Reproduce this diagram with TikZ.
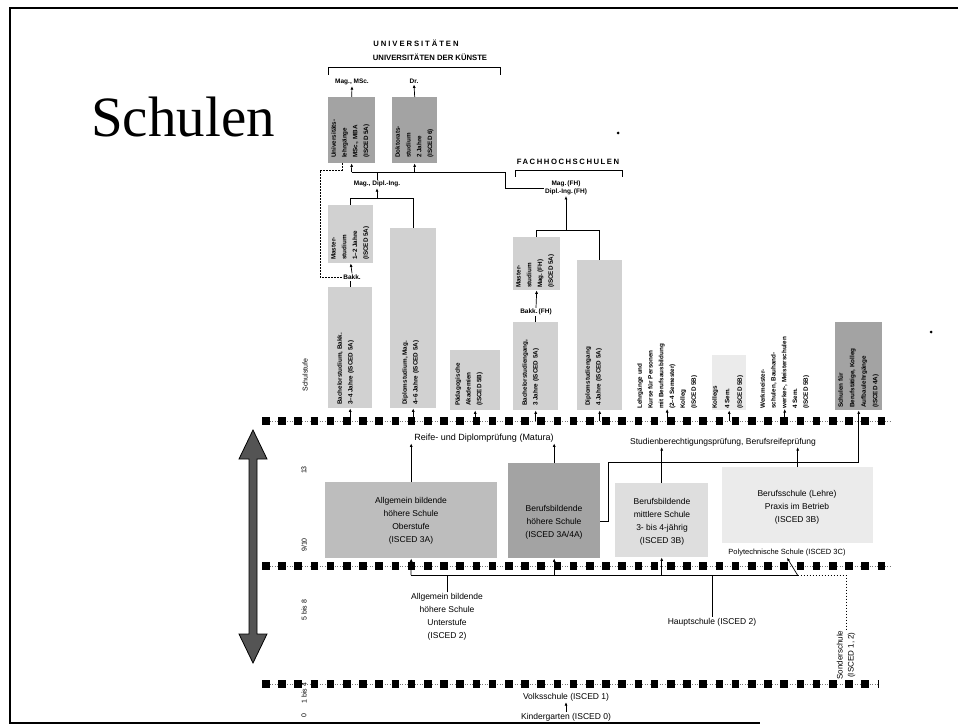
\documentclass[tikz,border=0pt]{standalone}
\usepackage{fontspec}
\setmainfont{Liberation Serif}
\setsansfont{Liberation Sans}
\usetikzlibrary{arrows.meta}
\definecolor{bxdark}{gray}{0.64}
\definecolor{bxmidd}{gray}{0.74}
\definecolor{bxmid}{gray}{0.82}
\definecolor{bxlight}{gray}{0.87}
\definecolor{bxpale}{gray}{0.92}
\definecolor{arrowfill}{gray}{0.33}
\begin{document}
\begin{tikzpicture}[x=1pt,y=-1pt,
  lbl/.style={font=\sffamily\fontsize{8.5}{13}\selectfont, align=center, inner sep=1pt},
  sml/.style={font=\sffamily\bfseries\fontsize{6.5}{9}\selectfont, align=center, inner sep=1pt},
  vtxt/.style={font=\sffamily\bfseries\fontsize{6.3}{10.8}\selectfont, rotate=90, align=left, anchor=north west, inner sep=0pt},
  bx/.style={anchor=north west, inner sep=0pt, draw=none},
  conn/.style={line width=0.7pt},
  arr/.style={conn, -{Latex[length=3.5pt,width=3pt]}},
  dsh/.style={line width=0.6pt, dash pattern=on 1.5pt off 1.5pt},
  stufe/.style={line width=7.5pt, dash pattern=on 7.5pt off 8.7pt},
  stufethin/.style={line width=0.5pt, black!55, dash pattern=on 1pt off 1.5pt},
]
\useasboundingbox (0,0) rectangle (961,727);

% slide frame
\draw[line width=2.4pt] (958,8) -- (10,8) -- (10,723) -- (760,723);

% title
\node[font=\fontsize{57}{60}\selectfont, anchor=base west, inner sep=0pt] (title) at (91,137) {Schulen};

% ---------- universities ----------
\node[font=\sffamily\bfseries\fontsize{7.7}{9}\selectfont\addfontfeature{LetterSpace=25}] (uni1) at (416,43) {UNIVERSITÄTEN};
\node[font=\sffamily\bfseries\fontsize{7.7}{9}\selectfont] (uni2) at (430,57) {UNIVERSITÄTEN DER KÜNSTE};
\draw[conn] (328,75) -- (328,67) -- (500,67) -- (500,75);

\node[sml] (lmag) at (352,82) {Mag., MSc.};
\node[sml] (ldr) at (414,81) {Dr.};

\node[bx, fill=bxdark, minimum width=47, minimum height=66] (u1) at (328,97) {};
\node[bx, fill=bxdark, minimum width=45, minimum height=66] (u2) at (392,97) {};
\node[vtxt] at (331,158) {Universitäts-\\lehrgänge\\MSc., MBA\\(ISCED 5A)};
\node[vtxt] at (395,158) {Doktorats-\\studium\\2 Jahre\\(ISCED 6)};
\draw[arr] (u1.north) -- (lmag.south);
\draw[arr] (u2.north) -- (ldr.south);

\node[sml] (lmd) at (377,184) {Mag., Dipl.-Ing.};
\node[sml] (lfh) at (566,188) {Mag.\,(FH)\\[-1.5pt]Dipl.-Ing.\,(FH)};

\coordinate (ua) at (351.5,172);
\coordinate (ub) at (414.5,172);
\coordinate (uc) at (505,172);
\draw[arr] (ua) -- (u1.south);
\draw[arr] (ub) -- (u2.south);
\draw[conn] (ua) -- (uc) |- (lfh.west);
\draw[conn] (lmd.north) -- (lmd.north |- ua);

\node[bx, fill=bxmid, minimum width=45, minimum height=58] (u3) at (328,205) {};
\node[bx, fill=bxmid, minimum width=46, minimum height=180] (u4) at (390,228) {};
\node[vtxt] at (331,260) {Master-\\studium\\1–2 Jahre\\(ISCED 5A)};
\coordinate (ba) at (350.5,198);
\draw[conn] (u3.north) |- (u4.north |- ba) -- (u4.north);
\draw[arr] (lmd.south |- ba) -- (lmd.south);

\node[sml] (lbk) at (352,277) {Bakk.};
\node[bx, fill=bxmid, minimum width=44, minimum height=121] (u5) at (328,287) {};
\draw[arr] (lbk.north) -- (u3.south);
\draw[conn] (u5.north) -- (u5.north |- lbk.south);
\draw[dsh] ([xshift=14pt]u1.south west) |- (320,170) |- (lbk.west);

\node[vtxt] at (337,405) {Bachelorstudium, Bakk.\\3–4 Jahre (ISCED 5A)};
\node[vtxt] at (402,405) {Diplomstudium, Mag.\\4–6 Jahre (ISCED 5A)};

% academies
\node[bx, fill=bxmid, minimum width=50, minimum height=60] (ak) at (450,350) {};
\node[vtxt] at (455,406) {Pädagogische\\Akademien\\(ISCED 5B)};

% ---------- universities of applied sciences ----------
\node[font=\sffamily\bfseries\fontsize{7.7}{9}\selectfont\addfontfeature{LetterSpace=20}] (fhh) at (568,162) {FACHHOCHSCHULEN};
\draw[conn] (515,177) -- (515,170) -- (622,170) -- (622,177);

\node[bx, fill=bxmid, minimum width=47, minimum height=53] (fm) at (513,237) {};
\node[bx, fill=bxmid, minimum width=45, minimum height=150] (fd) at (577,260) {};
\node[vtxt] at (516,288) {Master-\\studium\\Mag.\,(FH)\\(ISCED 5A)};
\coordinate (fa) at (536.5,230);
\draw[conn] (fm.north) |- (fd.north |- fa) -- (fd.north);
\draw[arr] (lfh.south |- fa) -- (lfh.south);

\node[sml] (lbf) at (536,312) {Bakk.\,(FH)};
\node[bx, fill=bxmid, minimum width=45, minimum height=88] (fb) at (513,322) {};
\draw[arr] (lbf.north) -- (fm.south);
\draw[conn] (fb.north) -- (fb.north |- lbf.south);
\node[vtxt] at (522,406) {Bachelorstudiengang,\\3 Jahre (ISCED 5A)};
\node[vtxt] at (585,406) {Diplomstudiengang\\4 Jahre (ISCED 5A)};

% ---------- post-secondary courses ----------
\node[vtxt] (ga) at (637,409) {Lehrgänge und\\Kurse für Personen\\mit Berufsausbildung\\(2–4 Semester)\\Kolleg\\(ISCED 5B)};
\node[bx, fill=bxpale, minimum width=34, minimum height=55] (gb) at (712,355) {};
\node[vtxt, font=\sffamily\bfseries\fontsize{6.3}{12.5}\selectfont] at (712,409) {Kollegs\\4 Sem.\\(ISCED 5B)};
\node[vtxt] (gc) at (760,409) {Werkmeister-\\schulen, Bauhand-\\werker-, Meisterschulen\\4 Sem.\\(ISCED 5B)};
\node[bx, fill=bxdark, minimum width=47, minimum height=88] (dk) at (835,322) {};
\node[vtxt, font=\sffamily\bfseries\fontsize{6.3}{11.5}\selectfont] at (838,408) {Schulen für\\Berufstätige, Kolleg\\Aufbaulehrgänge\\(ISCED 4A)};

% ---------- upper secondary ----------
\node[lbl, font=\sffamily\fontsize{9}{13}\selectfont] (mat) at (484,438) {Reife- und Diplomprüfung (Matura)};
\node[lbl] (sbp) at (723,442) {Studienberechtigungsprüfung, Berufsreifeprüfung};

\node[bx, fill=bxmidd, minimum width=172, minimum height=76] (ahso) at (325,482) {};
\node[bx, fill=bxdark, minimum width=92, minimum height=95] (bhs) at (508,463) {};
\node[bx, fill=bxlight, minimum width=93, minimum height=74] (bms) at (615,483) {};
\node[bx, fill=bxpale, minimum width=151, minimum height=76] (bs) at (722,467) {};
\node[lbl] at (411,521) {Allgemein bildende\\höhere Schule\\Oberstufe\\(ISCED 3A)};
\node[lbl] at (554,522) {Berufsbildende\\höhere Schule\\(ISCED 3A/4A)};
\node[lbl] at (662,522) {Berufsbildende\\mittlere Schule\\3- bis 4-jährig\\(ISCED 3B)};
\node[lbl] at (797,507) {Berufsschule (Lehre)\\Praxis im Betrieb\\(ISCED 3B)};
\node[lbl, font=\sffamily\fontsize{7.5}{9}\selectfont] (poly) at (787,553) {Polytechnische Schule (ISCED 3C)};

% ---------- lower secondary and primary ----------
\node[lbl] (ahsu) at (447,617) {Allgemein bildende\\höhere Schule\\Unterstufe\\(ISCED 2)};
\node[lbl] (hs) at (712,622) {Hauptschule (ISCED 2)};
\node[lbl, rotate=90, font=\sffamily\fontsize{8}{11}\selectfont] (sonder) at (846,655) {Sonderschule\\(ISCED 1, 2)};
\node[lbl] (vs) at (566,697) {Volksschule (ISCED 1)};
\node[lbl] (kg) at (566,717) {Kindergarten (ISCED 0)};

% grade labels
\node[lbl, rotate=90, font=\sffamily\fontsize{7}{9}\selectfont] (g0) at (305,375) {Schulstufe};
\node[lbl, rotate=90, font=\sffamily\fontsize{7}{9}\selectfont] (g1) at (304,470) {13};
\node[lbl, rotate=90, font=\sffamily\fontsize{7}{9}\selectfont] (g2) at (304,545) {9/10};
\node[lbl, rotate=90, font=\sffamily\fontsize{7}{9}\selectfont] (g3) at (304,610) {5 bis 8};
\node[lbl, rotate=90, font=\sffamily\fontsize{7}{9}\selectfont] (g4) at (304,693) {1 bis 4};
\node[lbl, rotate=90, font=\sffamily\fontsize{7}{9}\selectfont] (g5) at (304,716) {0};

% level separators
\foreach \yy/\xe in {421/892, 566/892, 684/878} {
  \draw[stufethin] (262,\yy) -- (\xe,\yy);
  \draw[stufe] (262,\yy) -- (\xe,\yy);
}

% entries into tertiary columns
\foreach \n in {u5,u4,ak,fb,fd,gb} \draw[arr] (\n.south |- 0,421) -- (\n.south);
\draw[arr] (ga.west |- 0,421) -- (ga.west);
\draw[arr] (gc.west |- 0,421) -- (gc.west);

% upper secondary to exams
\draw[arr] (ahso.north) -- (ahso.north |- mat.south);
\draw[arr] (bhs.north) -- (bhs.north |- mat.south);
\draw[arr] (bms.north) -- (bms.north |- sbp.south);
\draw[arr] (bs.north) -- (bs.north |- sbp.south);
\draw[arr] ([yshift=-11pt]bhs.east) -- ++(8,0) |- (dk.south |- 0,462) -- (dk.south);

% lower secondary to upper secondary
\coordinate (la) at (411,575);
\coordinate (lz) at (797.5,575);
\coordinate (lsd) at (846,575);
\draw[conn] (la) -- (lz);
\draw[arr] (la) -- (ahso.south);
\draw[arr] (bhs.south |- la) -- (bhs.south);
\draw[arr] (bms.south |- la) -- (bms.south);
\draw[arr] (lz) -- (poly.south);
\draw[conn] (ahsu.north) -- (ahsu.north |- la);
\draw[conn] (hs.north) -- (hs.north |- la);
\draw[dsh] (lz) -- (lsd) -- (sonder.east);
\draw[arr] (kg.north) -- (vs.south);

% age arrow
\draw[line width=0.8pt, fill=arrowfill] (253,430) -- (267,459) -- (257,459) -- (257,634) -- (267,634)
  -- (253,663) -- (239,634) -- (249,634) -- (249,459) -- (239,459) -- cycle;

% specks
\fill (618,133) circle (1.5);
\fill (931,332) circle (1.5);
\end{tikzpicture}
\end{document}
